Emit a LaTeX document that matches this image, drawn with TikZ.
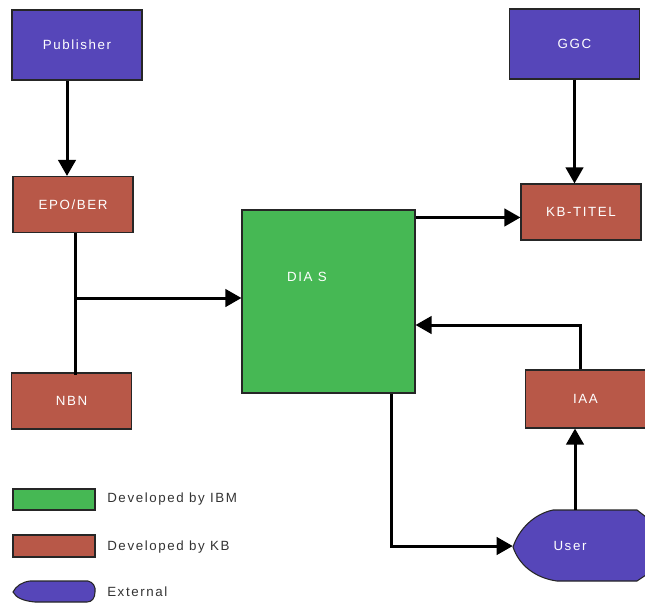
\documentclass[tikz,border=0pt]{standalone}
\usepackage{fontspec}
\setmainfont{Liberation Sans}[LetterSpace=12]
\usetikzlibrary{arrows.meta}
\newlength\px
\setlength\px{0.75pt}
\definecolor{extblue}{RGB}{86,70,185}
\definecolor{kbred}{RGB}{184,88,72}
\definecolor{ibmgreen}{RGB}{70,184,84}
\begin{document}
\begin{tikzpicture}[
                x=0.75pt, y=-0.75pt,
                font=\fontsize{10pt}{12pt}\selectfont,
                box/.style={rectangle, draw=black!85, line width=0.8pt, text=white, inner sep=0pt},
                ext/.style={box, fill=extblue, minimum width=130\px, minimum height=70\px},
                kb/.style={box, fill=kbred, minimum width=120\px, minimum height=56\px},
                ibm/.style={box, fill=ibmgreen},
                extshape/.style={draw=black!85, line width=0.8pt, fill=extblue},
                key/.style={anchor=west, text=black!80, inner sep=0pt},
                conn/.style={line width=2.25pt},
                arr/.style={conn, -{Triangle[length=12pt, width=13pt]}}
            ]
                \useasboundingbox (0,0) rectangle (645,604);

                % external sources
                \node[ext] (pub) at (77,45) {Publisher};
                \node[ext] (ggc) at (574.5,44) {GGC};

                % KB systems
                \node[kb] (epo) at (73,204.5) {EPO/BER};
                \node[kb] (kbt) at (581,212) {KB-TITEL};
                \node[kb] (nbn) at (71.5,401) {NBN};
                \node[kb, minimum width=120\px, minimum height=58\px] (iaa) at (585.5,399) {IAA};

                % IBM system
                \node[ibm, minimum width=173\px, minimum height=183\px] (dias) at (328.5,301.5) {};
                \node[text=white] (diaslbl) at (307,277) {DIA S};

                % user
                \draw[extshape] (513,547) .. controls (519,529) and (534,514) .. (553,510) -- (637,510) -- (646,517)
                    -- (646,575) -- (637,581) -- (557,581) .. controls (535,578) and (519,565) .. (513,547) -- cycle;
                \node[minimum width=132\px, minimum height=71\px, text=white] (user) at (579,546) {};
                \node[text=white] (userlbl) at (570,546) {User};

                % connectors
                \coordinate (split) at (75,298);
                \draw[arr] ([xshift=-10\px]pub.south) -- ([xshift=-10\px]pub.south |- epo.north);
                \draw[arr] (ggc.south) -- (ggc.south |- kbt.north);
                \draw[conn] (split |- epo.south) -- ([yshift=-3\px]split |- nbn.north);
                \draw[arr] (split) -- (split -| dias.west);
                \draw[arr] ([yshift=-8\px]dias.north east) -- ([yshift=-8\px]dias.north east -| kbt.west);
                \draw[arr] ([xshift=-5.5\px]iaa.north) |- ([yshift=-23.5\px]dias.east);
                \draw[arr] ([xshift=62.5\px]dias.south) |- (user.west);
                \draw[arr] ([xshift=-4\px]user.north) -- ([xshift=-4\px]user.north |- iaa.south);

                % legend
                \node[ibm, minimum width=82\px, minimum height=21\px] (keyibm) at (54,499.5) {};
                \node[box, fill=kbred, minimum width=82\px, minimum height=22\px] (keykb) at (54,546) {};
                \draw[extshape] (13,592) .. controls (16,586) and (22,582) .. (30,581) -- (88,581)
                    .. controls (93,582) and (96,587) .. (95,592) .. controls (95,598) and (92,602) .. (87,602)
                    -- (35,602) .. controls (24,601) and (16,598) .. (13,592) -- cycle;
                \node[key] (keyibmlbl) at (107,499) {Developed by IBM};
                \node[key] (keykblbl) at (107,547) {Developed by KB};
                \node[key] (keyextlbl) at (107,592) {External};
\end{tikzpicture}
\end{document}
